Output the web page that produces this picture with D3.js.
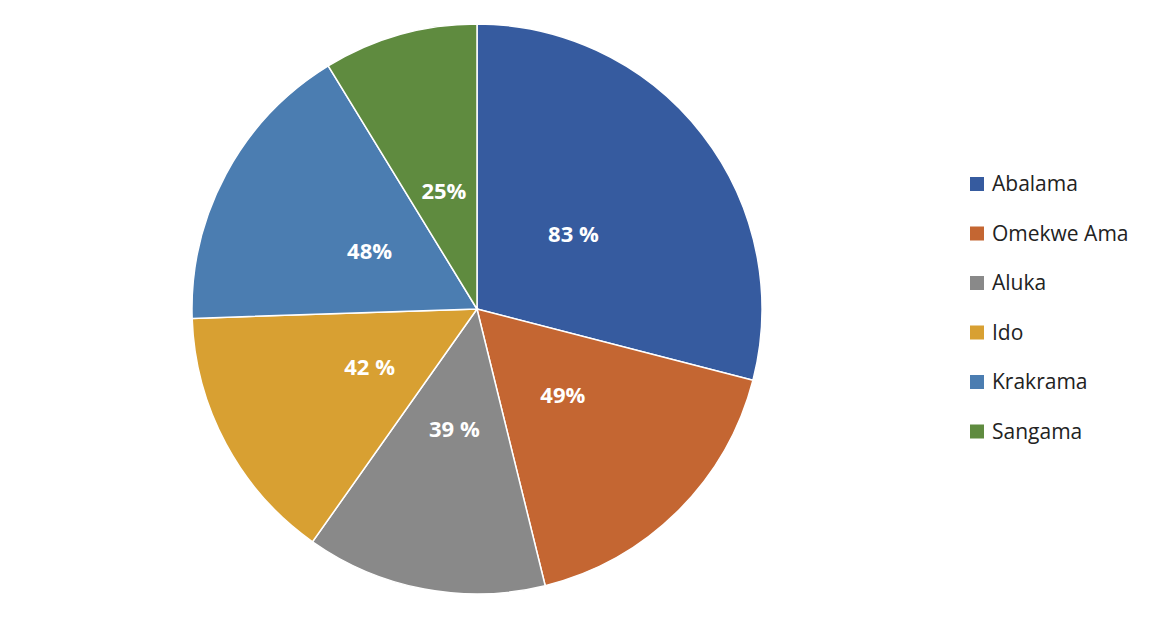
<!DOCTYPE html>
<html><head><meta charset="utf-8">
<script src="https://cdn.jsdelivr.net/npm/d3@7"></script>
<style>body{margin:0;background:#fff}</style>
</head><body><svg id="chart"></svg>
<script>
const categories = ["Abalama", "Omekwe Ama", "Aluka", "Ido", "Krakrama", "Sangama"];
const values = [83, 49, 39, 42, 48, 25];
const labels = ["83 %", "49%", "39 %", "42 %", "48%", "25%"];
const colors = ["#365b9f", "#c46632", "#898989", "#d8a032", "#4b7db1", "#5f8b3f"];

const width = 1174, height = 621;
const cx = 477, cy = 309, radius = 285;

const svg = d3.select("#chart").attr("width", width).attr("height", height);
const g = svg.append("g").attr("transform", `translate(${cx},${cy})`);

const pie = d3.pie().sort(null).value(d => d.value);
const data = pie(categories.map((c, i) => ({ name: c, value: values[i], label: labels[i], color: colors[i] })));

const arc = d3.arc().innerRadius(0).outerRadius(radius);
const labelArc = d3.arc().innerRadius(122).outerRadius(122);

g.selectAll("path")
    .data(data)
    .join("path")
    .attr("d", arc)
    .attr("fill", d => d.data.color)
    .attr("stroke", "#fff")
    .style("stroke-width", "1.5px");

g.selectAll("text")
    .data(data)
    .join("text")
    .attr("transform", d => `translate(${labelArc.centroid(d)})`)
    .attr("text-anchor", "middle")
    .attr("dy", "0.35em")
    .style("font-family", "'Open Sans', sans-serif")
    .style("font-size", "22px")
    .style("font-weight", "bold")
    .style("fill", "#fff")
    .text(d => d.data.label);

// legend
const legend = svg.append("g").attr("transform", "translate(970,184)");
const row = legend.selectAll("g")
    .data(categories)
    .join("g")
    .attr("transform", (d, i) => `translate(0,${i * 49.5})`);
row.append("rect")
    .attr("x", 0).attr("y", -7).attr("width", 14).attr("height", 14)
    .attr("fill", (d, i) => colors[i]);
row.append("text")
    .attr("x", 22).attr("dy", "0.35em")
    .style("font-family", "'Open Sans', sans-serif")
    .style("font-size", "21px")
    .style("fill", "#222")
    .text(d => d);
</script></body></html>
